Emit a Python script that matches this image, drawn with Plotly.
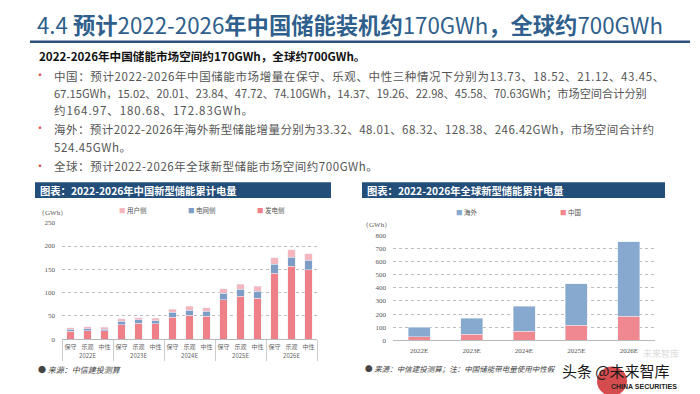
import plotly.graph_objects as go

# ---------------- data ----------------
years = ["2022E", "2023E", "2024E", "2025E", "2026E"]
scenarios = ["保守", "乐观", "中性"]
cat_year = [y for y in years for _ in scenarios]
cat_scen = [s for _ in years for s in scenarios]

gen_side = [17, 18, 17.5, 31, 34, 32.5, 47, 51, 49, 84, 92, 88, 141, 156, 149]      # 发电侧
grid_side = [4, 4.3, 4.1, 7, 7.2, 7, 10.5, 11, 10.5, 14, 15, 14.5, 20, 20, 20]       # 电网侧
user_side = [3.8, 3.8, 3.9, 5.3, 4.9, 5.2, 7.0, 8.0, 8.2, 9.9, 10.7, 10.8, 14.1, 15.8, 14.9]  # 用户侧

china_total = [25.5, 44.7, 67.7, 113.3, 183.9]   # 中国
overseas_total = [74, 122, 190, 318, 565]        # 海外

left_ticks = [0, 50, 100, 150, 200, 250]
right_ticks = [0, 100, 200, 300, 400, 500, 600, 700, 800]

C_GEN = "#EF8088"
C_GRID = "#7E9DC6"
C_USER = "#F5B6BE"
C_OVS = "#87A8CF"
C_CN = "#F08890"

W, H = 700, 394
def px(x):
    return x / W
def py(y):
    return 1 - y / H

CJK = "Noto Sans CJK SC"
SERIF = "Liberation Serif"

fig = go.Figure()

# ---------------- left chart ----------------
fig.add_trace(go.Bar(x=[cat_year, cat_scen], y=gen_side, name="发电侧", marker_color=C_GEN,
                     xaxis="x", yaxis="y", showlegend=False))
fig.add_trace(go.Bar(x=[cat_year, cat_scen], y=grid_side, name="电网侧", marker_color=C_GRID,
                     xaxis="x", yaxis="y", showlegend=False))
fig.add_trace(go.Bar(x=[cat_year, cat_scen], y=user_side, name="用户侧", marker_color=C_USER,
                     xaxis="x", yaxis="y", showlegend=False))

# ---------------- right chart ----------------
fig.add_trace(go.Bar(x=years, y=china_total, name="中国", marker_color=C_CN,
                     xaxis="x2", yaxis="y2", showlegend=False))
fig.add_trace(go.Bar(x=years, y=overseas_total, name="海外", marker_color=C_OVS,
                     xaxis="x2", yaxis="y2", showlegend=False))

axis_font = dict(family=SERIF, size=7, color="#555")

fig.update_layout(
    width=W, height=H,
    margin=dict(l=0, r=0, t=0, b=0),
    paper_bgcolor="white", plot_bgcolor="white",
    barmode="stack", bargap=0.58,
    font=dict(family=CJK, color="#333"),
    xaxis=dict(domain=[px(62), px(317)], anchor="y", type="multicategory",
               tickfont=dict(family=CJK, size=6, color="#666"), tickangle=0,
               showline=True, linecolor="#bbb", linewidth=1,
               showdividers=True, dividercolor="#ccc", dividerwidth=1,
               ticks="", ticklabelstandoff=2, fixedrange=True),
    yaxis=dict(domain=[py(342), py(223.3)], anchor="x", range=[0, 250], tickvals=left_ticks,
               showgrid=True, gridcolor="#bdbdbd", griddash="dot", gridwidth=1,
               zeroline=False, tickfont=axis_font, ticks="", ticklabelstandoff=6),
    xaxis2=dict(domain=[px(393), px(655)], anchor="y2", tickfont=axis_font, tickangle=0,
                showline=True, linecolor="#bbb", linewidth=1, ticks="", ticklabelstandoff=3),
    yaxis2=dict(domain=[py(343.3), py(236)], anchor="x2", range=[0, 800], tickvals=right_ticks,
                showgrid=True, gridcolor="#bdbdbd", griddash="dot", gridwidth=1,
                zeroline=False, tickfont=axis_font, ticks="", ticklabelstandoff=6),
)

shapes = []
ann = []

def spaced(t, ls):
    return '<span style="letter-spacing:%spx">%s</span>' % (ls, t)

# title
ann.append(dict(x=px(35), y=py(20), xref="paper", yref="paper", xanchor="left", yanchor="middle",
                showarrow=False,
                text="4.4 <b>预计</b>2022-2026<b>年中国储能装机约</b>170GWh<b>，全球约</b>700GWh",
                font=dict(family=CJK, size=22.3, color="#2F5F8C")))
shapes.append(dict(type="line", xref="paper", yref="paper", x0=px(30), x1=px(690),
                   y0=py(38.5), y1=py(38.5), line=dict(color="#2D4F7C", width=2.5)))

# body text
ann.append(dict(x=px(37), y=py(53), xref="paper", yref="paper", xanchor="left", yanchor="middle",
                showarrow=False, text="<b>2022-2026年中国储能市场空间约170GWh，全球约700GWh。</b>",
                font=dict(family=CJK, size=11.6, color="#111")))

body_lines = [
    (73, True, 0.6, 11.5, "中国：预计2022-2026年中国储能市场增量在保守、乐观、中性三种情况下分别为13.73、18.52、21.12、43.45、"),
    (91, False, 0, 11.2, "67.15GWh，15.02、20.01、23.84、47.72、74.10GWh，14.37、19.26、22.98、45.58、70.63GWh；市场空间合计分别"),
    (108.5, False, 0.95, 11.5, "约164.97、180.68、172.83GWh。"),
    (127.5, True, 0.45, 11.5, "海外：预计2022-2026年海外新型储能增量分别为33.32、48.01、68.32、128.38、246.42GWh，市场空间合计约"),
    (145.5, False, 0.6, 11.5, "524.45GWh。"),
    (165.5, True, 0.55, 11.5, "全球：预计2022-2026年全球新型储能市场空间约700GWh。"),
]
for y, bullet, ls, fs, t in body_lines:
    if bullet:
        ann.append(dict(x=px(40), y=py(y - 1), xref="paper", yref="paper", xanchor="center",
                        yanchor="middle", showarrow=False, text="•",
                        font=dict(family=CJK, size=12, color="#E0504F")))
    ann.append(dict(x=px(52), y=py(y), xref="paper", yref="paper", xanchor="left", yanchor="middle",
                    showarrow=False, text=spaced(t, ls), font=dict(family=CJK, size=fs, color="#555")))

# chart header bars
for x0, x1, t in [(35, 331, "图表：2022-2026年中国新型储能累计电量"),
                  (362, 665, "图表：2022-2026年全球新型储能累计电量")]:
    shapes.append(dict(type="rect", xref="paper", yref="paper", x0=px(x0), x1=px(x1),
                       y0=py(198), y1=py(182), fillcolor="#234E7A", line=dict(width=0)))
    ann.append(dict(x=px(x0 + 3), y=py(190), xref="paper", yref="paper", xanchor="left",
                    yanchor="middle", showarrow=False, text="<b>" + t + "</b>",
                    font=dict(family=CJK, size=10.3, color="white")))

# legends (as annotations)
def legend_item(x, y, color, label):
    ann.append(dict(x=px(x), y=py(y), xref="paper", yref="paper", xanchor="left", yanchor="middle",
                    showarrow=False,
                    text='<span style="color:%s">■</span> %s' % (color, label),
                    font=dict(family=CJK, size=6.5, color="#555")))

legend_item(117, 210, C_USER, "用户侧")
legend_item(186, 210, C_GRID, "电网侧")
legend_item(255, 210, C_GEN, "发电侧")
legend_item(454, 212, C_OVS, "海外")
legend_item(558, 212, C_CN, "中国")

# unit labels
ann.append(dict(x=px(52), y=py(213), xref="paper", yref="paper", xanchor="center", yanchor="middle",
                showarrow=False, text="（GWh）", font=dict(family=SERIF, size=7, color="#555")))
ann.append(dict(x=px(376), y=py(226), xref="paper", yref="paper", xanchor="center", yanchor="middle",
                showarrow=False, text="（GWh）", font=dict(family=SERIF, size=7, color="#555")))

# sources
ann.append(dict(x=px(36), y=py(373), xref="paper", yref="paper", xanchor="left", yanchor="middle",
                showarrow=False, text="● <i>来源：中信建投测算</i>",
                font=dict(family=CJK, size=8, color="#444")))
ann.append(dict(x=px(363), y=py(372), xref="paper", yref="paper", xanchor="left", yanchor="middle",
                showarrow=False, text="● <i>来源：中信建投测算；注：中国储能带电量使用中性假</i>",
                font=dict(family=CJK, size=7.5, color="#444")))

# watermark
shapes.append(dict(type="circle", xref="paper", yref="paper", x0=px(597), x1=px(627),
                   y0=py(400), y1=py(370), fillcolor="#D0393B", line=dict(width=0), opacity=0.9))
ann.append(dict(x=px(641), y=py(357), xref="paper", yref="paper", xanchor="left", yanchor="middle",
                showarrow=False, text="未来智库", font=dict(family=CJK, size=9, color="#dcdcdc")))
ann.append(dict(x=px(560), y=py(374), xref="paper", yref="paper", xanchor="left", yanchor="middle",
                showarrow=False, text="头条 @未来智库", font=dict(family=CJK, size=15, color="#1a1a1a")))
ann.append(dict(x=px(609), y=py(390), xref="paper", yref="paper", xanchor="left", yanchor="middle",
                showarrow=False, text="<b>CHINA SECURITIES</b>",
                font=dict(family="Liberation Sans", size=7, color="#222")))

fig.update_layout(shapes=shapes, annotations=ann)
fig.write_html("out.html", config={"displayModeBar": False},
               post_script="document.body.style.margin='0';document.body.style.padding='0';")
